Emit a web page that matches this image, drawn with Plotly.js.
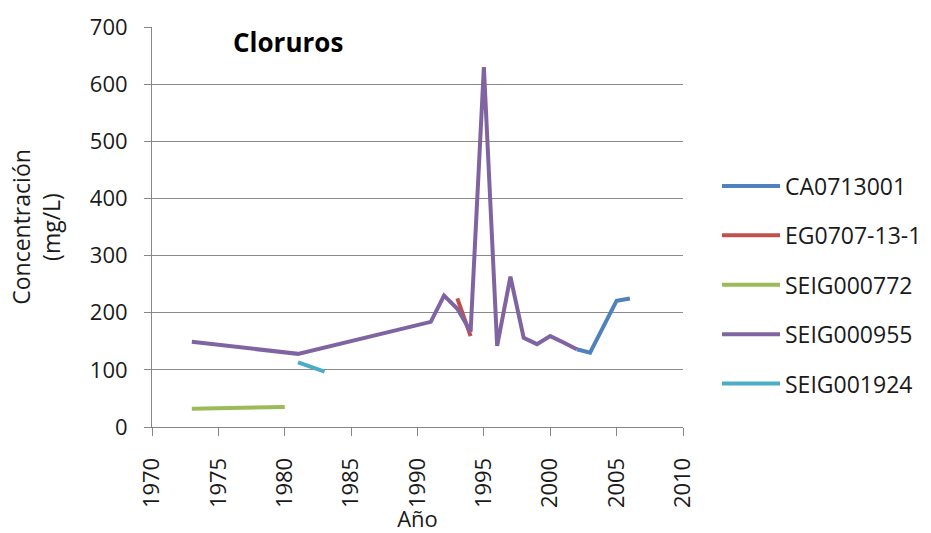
<!DOCTYPE html>
<html><head><meta charset="utf-8">
<script src="https://cdn.plot.ly/plotly-3.0.1.min.js"></script>
<style>body{margin:0;background:#fff}#c{width:931px;height:533px}</style>
</head><body><div id="c"></div>
<script>
var seriesNames = ["CA0713001","EG0707-13-1","SEIG000772","SEIG000955","SEIG001924"];
var caYears = [2002, 2003, 2005, 2006];
var caVals = [136, 130, 221, 225];
var egYears = [1993, 1994];
var egVals = [225, 159];
var s772Years = [1973, 1980];
var s772Vals = [32, 35];
var s955Years = [1973, 1981, 1991, 1992, 1993, 1994, 1995, 1996, 1997, 1998, 1999, 2000, 2001, 2002];
var s955Vals = [149, 128, 184, 230, 207, 167, 630, 142, 263, 156, 145, 159, 148, 136];
var s1924Years = [1981, 1983];
var s1924Vals = [113, 97];
var xTicks = [1970,1975,1980,1985,1990,1995,2000,2005,2010];
var yTicks = [0,100,200,300,400,500,600,700];
var colors = ["#4F81BD","#C0504D","#9BBB59","#8064A2","#4BACC6"];

var xs = [caYears, egYears, s772Years, s955Years, s1924Years];
var ys = [caVals, egVals, s772Vals, s955Vals, s1924Vals];
var traces = seriesNames.map(function(n,i){
  return {x: xs[i], y: ys[i], name: n, type: 'scatter', mode: 'lines',
          legendgroup: 'g'+i,
          line: {color: colors[i], width: 4}};
});
var font = "'Open Sans', sans-serif";
var tc = '#1a1a1a';
var layout = {
  width: 931, height: 533,
  margin: {l:152, r:248, t:27, b:106},
  paper_bgcolor: '#fff', plot_bgcolor: '#fff',
  font: {family: font, color: tc},
  title: {text: '<b>Cloruros</b>', font: {size: 26, color: '#000', family: font},
          xref: 'paper', x: (233-152)/531, xanchor: 'left', yref: 'container', y: 1-43/533, yanchor: 'middle'},
  xaxis: {range: [1970, 2010], tickvals: xTicks, ticktext: xTicks.map(String), tickangle: -90,
          showgrid: false, zeroline: false, showline: true, linecolor: '#868686', linewidth: 1,
          ticks: 'outside', ticklen: 8, tickcolor: '#868686', tickfont: {size: 22, color: tc},
          ticklabelstandoff: 13,
          title: {text: 'Año', font: {size: 22, color: tc}, standoff: 0}},
  yaxis: {range: [0, 700], tickvals: yTicks, showgrid: true, gridcolor: '#8a8a8a', gridwidth: 1,
          zeroline: false, showline: true, linecolor: '#868686', linewidth: 1,
          ticks: 'outside', ticklen: 7, tickcolor: '#868686', tickfont: {size: 22, color: tc},
          ticklabelstandoff: 12,
          title: {text: 'Concentración<br>(mg/L)', font: {size: 23, color: tc}, standoff: 22}},
  showlegend: true,
  legend: {x: 717/931, xref: 'container', xanchor: 'left', y: (427-285)/400, yanchor: 'middle',
           font: {size: 23, color: tc}, tracegroupgap: 16.5, traceorder: 'grouped', itemwidth: 58,
           bgcolor: 'rgba(0,0,0,0)'}
};
Plotly.newPlot('c', traces, layout, {displayModeBar: false});
</script></body></html>
